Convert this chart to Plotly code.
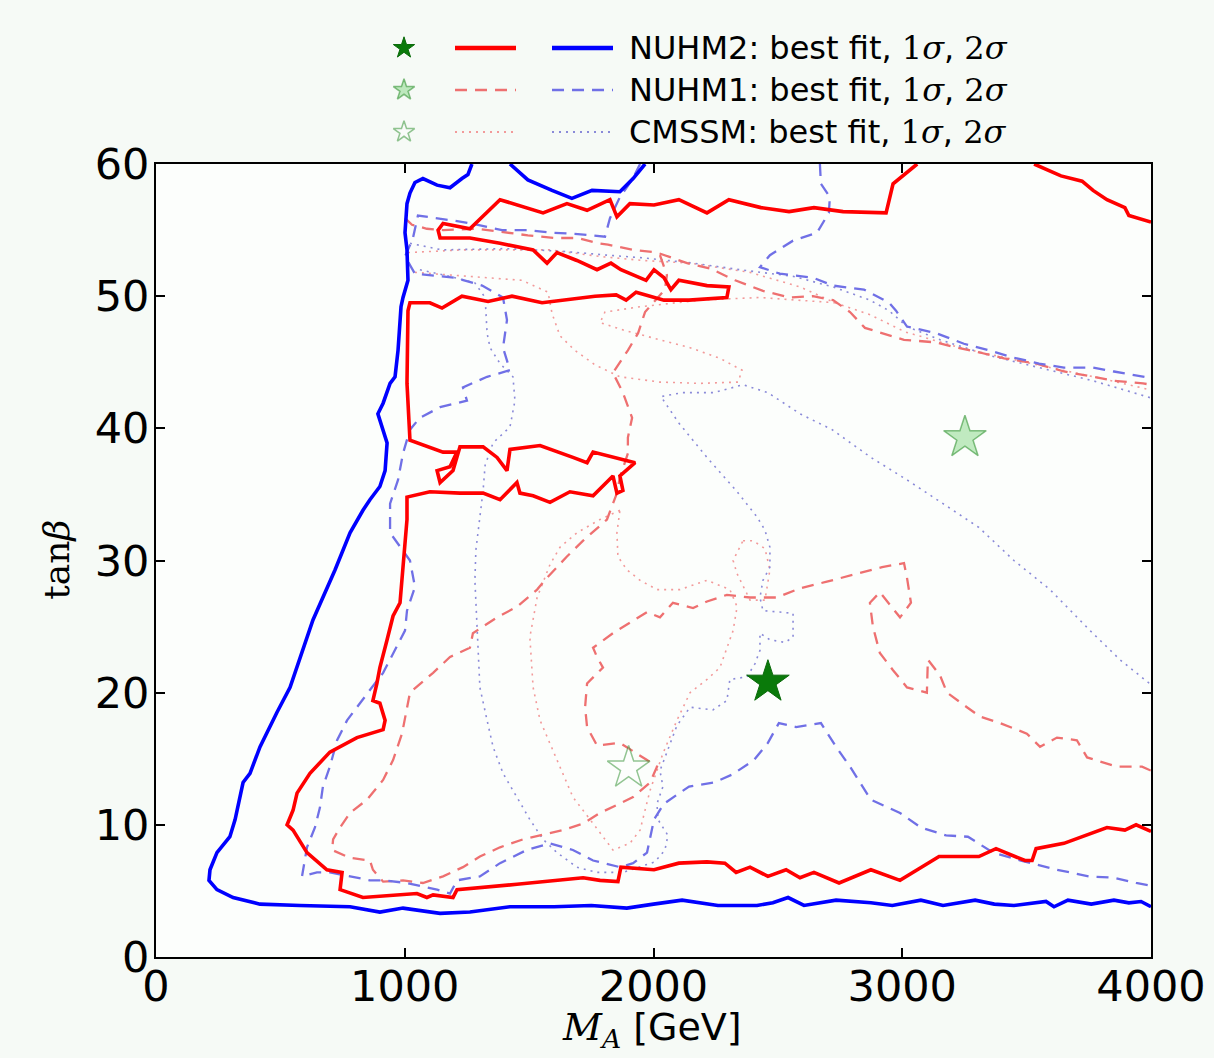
import plotly.graph_objects as go

# ---------------- data (M_A [GeV], tan beta) ----------------
nuhm2_best = [(2460, 20.8)]
nuhm1_best = [(3252, 39.3)]
cmssm_best = [(1900, 14.3)]

# NUHM2 2 sigma (solid blue)
nuhm2_2s_main = [(1270, 60.0), (1254, 59.2), (1230, 58.9), (1182, 58.2), (1130, 58.4), (1073, 58.9), (1041, 58.6),
                 (1021, 57.8), (1009, 57.0), (1001, 54.8), (1009, 53.5), (1013, 51.2), (993, 49.9), (985, 49.2),
                 (973, 45.9), (961, 43.9), (941, 43.4), (913, 41.9), (892, 41.1), (913, 39.9), (929, 38.9),
                 (921, 36.8), (900, 35.6), (860, 34.6), (832, 33.8), (780, 32.1), (720, 29.3), (631, 25.5),
                 (539, 20.4), (486, 18.5), (418, 15.9), (378, 13.9), (350, 13.2), (318, 10.4), (297, 9.1),
                 (245, 7.9), (217, 6.6), (213, 5.8), (245, 5.1), (310, 4.5), (418, 4.0), (579, 3.9), (780, 3.8),
                 (900, 3.4), (993, 3.7), (1142, 3.3), (1262, 3.4), (1423, 3.8), (1600, 3.8), (1750, 3.9),
                 (1893, 3.7), (2000, 4.0), (2115, 4.3), (2259, 3.9), (2416, 3.9), (2480, 4.1), (2541, 4.5),
                 (2605, 3.9), (2734, 4.3), (2874, 4.1), (2960, 3.9), (3075, 4.3), (3164, 3.9), (3293, 4.3),
                 (3370, 4.0), (3449, 3.9), (3578, 4.2), (3610, 3.8), (3666, 4.3), (3760, 4.0), (3851, 4.3),
                 (3911, 4.1), (3960, 4.2), (4000, 3.8)]
nuhm2_2s_arc = [(1423, 60.0), (1495, 58.8), (1592, 58.0), (1672, 57.4), (1753, 58.0), (1865, 57.9),
                (1918, 58.9), (1954, 59.8), (1966, 60.0)]

# NUHM2 1 sigma (solid red)
nuhm2_1s_main = [(4000, 9.5), (3940, 10.0), (3895, 9.6), (3823, 9.8), (3650, 8.6), (3538, 8.2), (3522, 7.3),
                 (3493, 7.3), (3377, 8.2), (3308, 7.6), (3148, 7.6), (2991, 5.8), (2874, 6.6), (2746, 5.6),
                 (2645, 6.4), (2589, 6.0), (2533, 6.6), (2460, 6.1), (2388, 6.8), (2332, 6.4), (2287, 7.1),
                 (2215, 7.2), (2102, 7.1), (2002, 6.6), (1869, 6.8), (1857, 5.7), (1785, 5.8), (1717, 6.0),
                 (1451, 5.5), (1210, 5.1), (1194, 4.5), (1114, 4.7), (1089, 4.5), (1049, 4.8), (832, 4.5),
                 (740, 5.1), (748, 6.4), (687, 6.6), (607, 7.9), (551, 9.6), (527, 10.0), (551, 11.1),
                 (567, 12.4), (619, 13.9), (699, 15.5), (808, 16.6), (913, 17.2), (921, 17.9), (900, 19.2),
                 (872, 19.4), (888, 20.7), (900, 21.9), (929, 24.0), (953, 25.8), (981, 26.8), (993, 29.3),
                 (1009, 33.1), (1009, 34.8), (1101, 35.2), (1222, 35.1), (1315, 35.1), (1383, 34.6),
                 (1411, 35.1), (1451, 35.9), (1463, 35.1), (1516, 34.9), (1584, 34.4), (1664, 35.2),
                 (1757, 34.9), (1837, 36.4), (1853, 35.1), (1877, 35.3), (1865, 36.4), (1926, 37.4),
                 (1757, 38.2), (1733, 37.4), (1676, 37.8), (1544, 38.7), (1423, 38.4), (1411, 36.8),
                 (1371, 37.8), (1315, 38.6), (1222, 38.6), (1194, 36.8), (1142, 35.9), (1130, 36.8),
                 (1182, 37.1), (1210, 38.2), (1154, 38.2), (1021, 39.1), (1009, 43.4), (1013, 48.9),
                 (1021, 49.5), (1101, 49.5), (1150, 49.1), (1230, 50.0), (1335, 49.6), (1431, 50.0),
                 (1552, 49.5), (1632, 49.7), (1765, 50.0), (1850, 50.1), (1890, 49.7), (1930, 50.3),
                 (2042, 49.7), (2143, 49.7), (2295, 49.9), (2303, 50.7), (2215, 50.8), (2102, 51.2),
                 (2070, 50.5), (2042, 51.4), (2002, 52.0), (1970, 51.2), (1869, 52.0), (1829, 52.5),
                 (1773, 52.0), (1692, 52.7), (1612, 53.3), (1572, 52.5), (1516, 53.5), (1383, 54.0),
                 (1262, 54.4), (1142, 54.4), (1134, 55.0), (1154, 55.5), (1262, 55.1), (1383, 57.3),
                 (1451, 56.9), (1556, 56.3), (1652, 57.0), (1733, 56.5), (1825, 57.3), (1853, 56.0),
                 (1905, 57.0), (2002, 56.9), (2102, 57.3), (2215, 56.3), (2303, 57.3), (2432, 56.7),
                 (2545, 56.4), (2645, 56.7), (2762, 56.4), (2935, 56.3), (2963, 58.5), (3047, 59.8),
                 (3060, 60.0)]
nuhm2_1s_corner = [(3530, 60.0), (3638, 59.1), (3723, 58.7), (3767, 58.0), (3823, 57.3), (3895, 56.7),
                   (3911, 56.1), (3980, 55.7), (4000, 55.6)]

# NUHM1 2 sigma (dashed blue)
nuhm1_2s_main = [(1946, 60.0), (1914, 58.8), (1865, 57.5), (1825, 55.9), (1805, 54.5), (1696, 54.7),
                 (1592, 54.8), (1495, 55.0), (1391, 55.0), (1294, 55.4), (1202, 55.7), (1093, 56.0),
                 (1053, 56.1), (1033, 54.4), (1001, 53.0), (1041, 51.7), (1093, 51.6), (1202, 51.4),
                 (1311, 50.8), (1395, 49.9), (1411, 48.2), (1395, 46.1), (1423, 44.4), (1331, 43.9),
                 (1234, 43.1), (1250, 42.1), (1142, 41.6), (1061, 40.8), (1021, 39.9), (993, 38.1),
                 (973, 36.1), (941, 34.3), (941, 32.1), (1021, 30.0), (1041, 28.0), (1009, 26.2),
                 (1001, 24.7), (953, 23.0), (913, 21.5), (860, 20.2), (808, 18.9), (768, 17.9), (728, 16.4),
                 (699, 14.4), (671, 12.9), (659, 11.3), (639, 9.8), (607, 8.3), (587, 6.1), (647, 6.4),
                 (699, 6.4), (780, 6.1), (860, 5.8), (913, 5.8), (1009, 5.6), (1130, 5.1), (1182, 4.8),
                 (1210, 5.8), (1302, 6.1), (1383, 7.1), (1491, 8.1), (1584, 8.6), (1676, 8.1), (1757, 7.3),
                 (1865, 6.8), (1918, 7.1), (1974, 7.9), (2002, 10.4), (2042, 11.6), (2143, 12.9),
                 (2243, 13.2), (2316, 13.8), (2404, 14.9), (2460, 16.2), (2504, 17.7), (2573, 17.4),
                 (2673, 17.7), (2734, 15.9), (2790, 14.4), (2874, 11.9), (2991, 10.9), (3075, 9.8),
                 (3176, 9.2), (3264, 9.1), (3365, 7.9), (3477, 7.3), (3622, 6.6), (3751, 6.1), (3851, 6.0),
                 (3940, 5.6), (4000, 5.4)]
nuhm1_2s_upper = [(2669, 60.0), (2673, 58.5), (2709, 57.5), (2705, 56.3), (2657, 54.8), (2561, 54.2),
                  (2468, 53.1), (2428, 52.2), (2508, 51.7), (2641, 51.4), (2722, 50.8), (2846, 50.5),
                  (2947, 49.5), (2975, 48.9), (3019, 47.7), (3136, 47.2), (3248, 46.4), (3349, 45.9),
                  (3437, 45.4), (3550, 44.9), (3650, 44.6), (3767, 44.6), (3851, 44.3), (3968, 43.9),
                  (4000, 43.8)]

# NUHM1 1 sigma (dashed red)
nuhm1_1s_upper = [(1001, 55.9), (1029, 55.4), (1089, 55.1), (1154, 55.0), (1294, 55.1), (1403, 54.8),
                  (1495, 54.6), (1604, 54.4), (1696, 54.4), (1777, 54.0), (1817, 53.9), (1918, 53.5),
                  (2014, 53.3), (2135, 52.5), (2227, 52.1), (2328, 51.2), (2440, 50.4), (2549, 49.9),
                  (2641, 50.0), (2722, 49.7), (2790, 48.8), (2850, 47.6), (3007, 46.7), (3136, 46.5),
                  (3220, 46.1), (3320, 45.7), (3409, 45.3), (3538, 44.9), (3650, 44.3), (3767, 43.9),
                  (3851, 43.6), (3968, 43.4), (4000, 43.3)]
nuhm1_1s_main = [(2026, 53.1), (2054, 51.6), (2046, 50.5), (1966, 48.8), (1938, 47.2), (1897, 45.9),
                 (1837, 44.2), (1877, 42.7), (1914, 40.8), (1897, 39.3), (1897, 38.1), (1865, 36.3),
                 (1853, 35.1), (1813, 33.1), (1717, 31.5), (1652, 30.3), (1572, 28.7), (1532, 27.8),
                 (1451, 26.5), (1371, 25.7), (1274, 24.5), (1262, 23.4), (1182, 22.7), (1114, 21.5),
                 (1021, 20.0), (1009, 18.9), (989, 16.9), (953, 14.9), (913, 13.4), (848, 11.9), (780, 10.9),
                 (740, 9.8), (712, 8.9), (708, 8.1), (780, 7.5), (860, 7.3), (872, 6.6), (913, 5.7),
                 (993, 5.8), (1073, 5.6), (1154, 6.1), (1234, 6.8), (1302, 7.6), (1383, 8.3), (1475, 8.9),
                 (1544, 9.2), (1636, 9.6), (1717, 10.1), (1785, 10.9), (1853, 11.5), (1918, 12.1),
                 (1986, 13.2), (2014, 14.4), (1974, 14.9), (1865, 16.2), (1773, 16.0), (1733, 17.4),
                 (1725, 18.9), (1733, 20.7), (1797, 21.9), (1773, 22.7), (1757, 23.4), (1837, 24.5),
                 (1905, 25.3), (1974, 26.1), (2026, 25.7), (2078, 26.8), (2159, 26.4), (2215, 26.9),
                 (2295, 27.4), (2388, 27.2), (2496, 27.2), (2589, 27.9), (2697, 28.4), (2818, 29.0),
                 (2919, 29.5), (3007, 29.8), (3019, 28.7), (3035, 26.8), (2991, 25.7), (2910, 27.6),
                 (2870, 26.8), (2882, 25.0), (2910, 23.0), (2963, 21.7), (3019, 20.4), (3099, 20.0),
                 (3103, 22.5), (3152, 21.3), (3180, 20.0), (3260, 18.9), (3312, 18.2), (3393, 17.7),
                 (3501, 16.9), (3554, 15.9), (3622, 16.6), (3702, 16.4), (3743, 15.1), (3863, 14.4),
                 (3964, 14.4), (4000, 14.1)]

# CMSSM 2 sigma (dotted blue)
cmssm_2s_upper = [(1021, 54.0), (1150, 53.5), (1403, 53.6), (1632, 53.4), (1817, 53.1), (1958, 52.9),
                  (2159, 52.5), (2348, 52.0), (2561, 51.5), (2722, 50.7), (2870, 49.7), (2947, 48.9),
                  (3019, 47.7), (3152, 46.7), (3353, 45.5), (3554, 44.6), (3767, 43.6), (3875, 43.0),
                  (4000, 42.3)]
cmssm_2s_main = [(1061, 52.0), (1182, 51.5), (1282, 51.0), (1323, 49.9), (1331, 47.2), (1343, 46.1),
                 (1383, 44.9), (1435, 43.9), (1443, 42.1), (1423, 40.1), (1355, 38.9), (1323, 37.2),
                 (1315, 35.3), (1302, 33.3), (1286, 30.8), (1282, 28.5), (1290, 25.5), (1302, 20.4),
                 (1331, 17.9), (1355, 15.9), (1395, 13.9), (1451, 12.1), (1503, 10.4), (1556, 8.9),
                 (1612, 7.9), (1692, 6.8), (1773, 6.4), (1877, 6.4), (1946, 6.8), (2006, 7.2), (2046, 8.1),
                 (2058, 9.2), (2018, 10.4), (2014, 11.6), (2038, 12.9), (2026, 14.1), (2058, 15.7),
                 (2094, 17.5), (2147, 18.9), (2239, 18.7), (2295, 19.4), (2307, 21.0), (2376, 21.2),
                 (2408, 22.2), (2428, 23.2), (2428, 24.5), (2468, 24.0), (2529, 23.8), (2561, 24.2),
                 (2561, 26.0), (2508, 26.1), (2440, 26.2), (2428, 27.2), (2440, 28.5), (2468, 29.5),
                 (2468, 31.0), (2448, 32.3), (2416, 33.3), (2332, 35.3), (2215, 37.8), (2102, 40.4),
                 (2030, 42.4), (2115, 42.7), (2243, 42.7), (2360, 43.3), (2460, 42.7), (2589, 41.1),
                 (2718, 39.9), (2874, 37.8), (3019, 36.1), (3164, 34.3), (3308, 32.5), (3449, 30.0),
                 (3594, 27.8), (3755, 24.7), (3875, 22.5), (4000, 20.6)]

# CMSSM 1 sigma (dotted red)
cmssm_1s_upper = [(1013, 53.3), (1230, 53.5), (1584, 53.5), (1785, 53.0), (1958, 52.7), (2147, 52.5),
                  (2388, 51.8), (2589, 50.7), (2730, 49.5), (2870, 48.6), (3011, 47.3), (3232, 46.1),
                  (3594, 44.6), (3795, 43.8), (4000, 42.9)]
cmssm_1s_island = [(1041, 51.8), (1262, 51.5), (1471, 51.2), (1576, 50.3), (1592, 48.7), (1624, 47.0),
                   (1684, 45.9), (1765, 44.8), (1865, 43.9), (2026, 43.5), (2187, 43.4), (2340, 43.5),
                   (2356, 44.4), (2267, 45.3), (2147, 46.1), (2026, 46.7), (1885, 47.4), (1785, 48.0),
                   (1805, 48.8), (1946, 49.2), (2187, 49.7), (2428, 49.9), (2589, 49.7), (2730, 49.5)]
cmssm_1s_lower = [(1865, 33.8), (1785, 33.1), (1692, 32.1), (1624, 31.0), (1584, 29.7), (1532, 27.2),
                  (1503, 24.2), (1516, 20.4), (1544, 17.9), (1612, 14.9), (1676, 12.1), (1745, 10.4),
                  (1797, 9.1), (1837, 8.1), (1905, 8.6), (1946, 9.6), (1986, 12.6), (2038, 15.4),
                  (2094, 17.9), (2147, 20.0), (2215, 21.0), (2267, 21.9), (2320, 24.7), (2336, 26.5),
                  (2307, 27.8), (2215, 28.5), (2106, 27.8), (2014, 27.8), (1946, 28.5), (1893, 29.3),
                  (1857, 30.3), (1853, 32.1), (1865, 33.8)]
cmssm_1s_small = [(2360, 31.5), (2400, 31.5), (2448, 30.9), (2468, 29.3), (2448, 27.0), (2388, 27.0),
                  (2336, 29.0), (2320, 30.0), (2360, 31.5)]

x_ticks = [0, 1000, 2000, 3000, 4000]
y_ticks = [0, 10, 20, 30, 40, 50, 60]
legend_rows = ["NUHM2", "NUHM1", "CMSSM"]

# ---------------- styles ----------------
RED = "#ff0000"
BLUE = "#0000ff"
RED_DASH = "#ee7070"
BLUE_DASH = "#7070e6"
RED_DOT = "#f29a9a"
BLUE_DOT = "#8a8ad8"
DASH = "12px,8px"
DOT = "2px,5px"
SERIF = "DejaVu Serif"
SANS = "DejaVu Sans"
PAPER = "#f6faf6"
PLOT = "#fcfefc"

fig = go.Figure()


def add_curve(points, color, width, dash="solid"):
    fig.add_trace(go.Scatter(
        x=[p[0] for p in points], y=[p[1] for p in points], mode="lines",
        line=dict(color=color, width=width, dash=dash), showlegend=False,
        hoverinfo="skip", xaxis="x", yaxis="y"))


# dotted (CMSSM) first, then dashed, then solid on top
for pts in (cmssm_1s_upper, cmssm_1s_island, cmssm_1s_lower, cmssm_1s_small):
    add_curve(pts, RED_DOT, 1.6, DOT)
for pts in (cmssm_2s_upper, cmssm_2s_main):
    add_curve(pts, BLUE_DOT, 1.6, DOT)
for pts in (nuhm1_1s_upper, nuhm1_1s_main):
    add_curve(pts, RED_DASH, 2.3, DASH)
for pts in (nuhm1_2s_main, nuhm1_2s_upper):
    add_curve(pts, BLUE_DASH, 2.3, DASH)
for pts in (nuhm2_1s_main, nuhm2_1s_corner):
    add_curve(pts, RED, 3.6)
for pts in (nuhm2_2s_main, nuhm2_2s_arc):
    add_curve(pts, BLUE, 3.6)

star_styles = [
    (nuhm2_best, dict(color="#0a7a0a", line=dict(color="#0a6a0a", width=1))),
    (nuhm1_best, dict(color="rgba(120,210,120,0.45)", line=dict(color="rgba(40,140,40,0.55)", width=1.5))),
    (cmssm_best, dict(color="rgba(255,255,255,0.3)", line=dict(color="rgba(40,140,40,0.5)", width=1.5))),
]
for pts, mk in star_styles:
    fig.add_trace(go.Scatter(x=[p[0] for p in pts], y=[p[1] for p in pts], mode="markers",
                             marker=dict(symbol="star", size=32, **mk), showlegend=False,
                             hoverinfo="skip", xaxis="x", yaxis="y"))

# ---------------- legend block (drawn on an auxiliary axis above the plot) ----------------
row_y = [104, 62, 20]
leg_line_styles = [("solid", "solid"), (DASH, DASH), (DOT, DOT)]
leg_colors = [(RED, BLUE, 4.4), (RED_DASH, BLUE_DASH, 2.6), (RED_DOT, BLUE_DOT, 2.0)]
for i, name in enumerate(legend_rows):
    yv = row_y[i]
    _, mk = star_styles[i]
    fig.add_trace(go.Scatter(x=[248], y=[yv], mode="markers",
                             marker=dict(symbol="star", size=16, **mk),
                             showlegend=False, hoverinfo="skip", xaxis="x2", yaxis="y2"))
    rc, bc, w = leg_colors[i]
    fig.add_trace(go.Scatter(x=[299, 360], y=[yv, yv], mode="lines",
                             line=dict(color=rc, width=w, dash=leg_line_styles[i][0]),
                             showlegend=False, hoverinfo="skip", xaxis="x2", yaxis="y2"))
    fig.add_trace(go.Scatter(x=[396, 457], y=[yv, yv], mode="lines",
                             line=dict(color=bc, width=w, dash=leg_line_styles[i][1]),
                             showlegend=False, hoverinfo="skip", xaxis="x2", yaxis="y2"))
    fig.add_annotation(
        x=471, y=yv, xref="x2", yref="y2", xanchor="left", yanchor="middle", showarrow=False,
        text=(f"{name}: best fit, <span style='font-family:{SERIF}'>1<i>σ</i></span>, "
              f"<span style='font-family:{SERIF}'>2<i>σ</i></span>"),
        font=dict(family=SANS, size=32, color="black"))

# axis titles
fig.add_annotation(x=-0.1, y=0.419, xref="paper", yref="paper", xanchor="center", yanchor="middle",
                   showarrow=False, textangle=-90,
                   text="tan<i>β</i>", font=dict(family=SERIF, size=36, color="black"))
fig.add_annotation(x=0.498, y=-0.077, xref="paper", yref="paper", xanchor="center", yanchor="middle",
                   showarrow=False,
                   text=f"<span style='font-family:{SERIF}'><i>M</i><sub><i>A</i></sub></span> [GeV]",
                   font=dict(family=SANS, size=38, color="black"))

# whiter background inside the axes frame
fig.add_shape(type="rect", xref="x domain", yref="y domain", x0=0, x1=1, y0=0, y1=1,
              fillcolor=PLOT, line=dict(width=0), layer="below")

axis_common = dict(showgrid=False, zeroline=False, showline=True, linecolor="black", linewidth=2,
                   mirror="ticks", ticks="inside", ticklen=9, tickwidth=1.5, tickcolor="black",
                   automargin=False, tickfont=dict(family=SANS, size=43, color="black"))
fig.update_layout(
    width=1214, height=1058,
    margin=dict(l=156, r=63, t=10, b=101, pad=0, autoexpand=False),
    paper_bgcolor=PAPER, plot_bgcolor=PAPER,
    showlegend=False,
    xaxis=dict(range=[0, 4000], tickvals=x_ticks, domain=[0, 1], anchor="y",
               ticklabelstandoff=-10, **axis_common),
    yaxis=dict(range=[0, 60], tickvals=y_ticks, domain=[0, 793 / 947], anchor="x",
               ticklabelstandoff=-4, **axis_common),
    xaxis2=dict(range=[0, 995], domain=[0, 1], anchor="y2", visible=False, automargin=False),
    yaxis2=dict(range=[0, 142], domain=[1 - 142 / 947, 1], anchor="x2", visible=False, automargin=False),
)

fig.write_html("out.html")
